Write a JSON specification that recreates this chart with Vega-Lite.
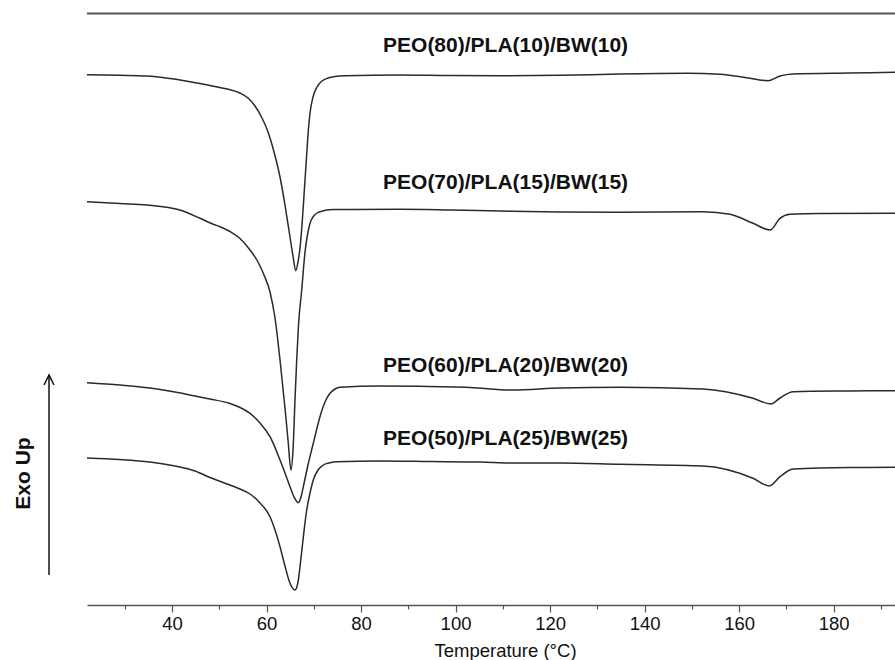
{
  "$schema": "https://vega.github.io/schema/vega-lite/v6.json",
  "width": 808,
  "height": 591.5,
  "autosize": {"type": "none"},
  "padding": {"left": 87, "top": 13.5, "right": 0, "bottom": 55},
  "background": "white",
  "config": {"view": {"stroke": null}, "font": "Liberation Sans"},
  "datasets": {
    "dsc": [
      {"sample": "PEO80", "temp": 22.00, "flow": 5.303},
      {"sample": "PEO80", "temp": 28.98, "flow": 5.297},
      {"sample": "PEO80", "temp": 34.70, "flow": 5.290},
      {"sample": "PEO80", "temp": 39.57, "flow": 5.265},
      {"sample": "PEO80", "temp": 43.80, "flow": 5.233},
      {"sample": "PEO80", "temp": 48.03, "flow": 5.195},
      {"sample": "PEO80", "temp": 51.63, "flow": 5.160},
      {"sample": "PEO80", "temp": 54.38, "flow": 5.120},
      {"sample": "PEO80", "temp": 56.08, "flow": 5.070},
      {"sample": "PEO80", "temp": 57.56, "flow": 4.990},
      {"sample": "PEO80", "temp": 59.04, "flow": 4.870},
      {"sample": "PEO80", "temp": 60.31, "flow": 4.730},
      {"sample": "PEO80", "temp": 61.58, "flow": 4.530},
      {"sample": "PEO80", "temp": 62.85, "flow": 4.280},
      {"sample": "PEO80", "temp": 63.90, "flow": 4.000},
      {"sample": "PEO80", "temp": 64.96, "flow": 3.680},
      {"sample": "PEO80", "temp": 65.60, "flow": 3.490},
      {"sample": "PEO80", "temp": 66.17, "flow": 3.343},
      {"sample": "PEO80", "temp": 66.66, "flow": 3.430},
      {"sample": "PEO80", "temp": 67.08, "flow": 3.570},
      {"sample": "PEO80", "temp": 67.50, "flow": 3.800},
      {"sample": "PEO80", "temp": 67.93, "flow": 4.100},
      {"sample": "PEO80", "temp": 68.35, "flow": 4.400},
      {"sample": "PEO80", "temp": 68.77, "flow": 4.700},
      {"sample": "PEO80", "temp": 69.20, "flow": 4.920},
      {"sample": "PEO80", "temp": 69.83, "flow": 5.080},
      {"sample": "PEO80", "temp": 70.68, "flow": 5.180},
      {"sample": "PEO80", "temp": 71.74, "flow": 5.240},
      {"sample": "PEO80", "temp": 73.01, "flow": 5.270},
      {"sample": "PEO80", "temp": 74.49, "flow": 5.285},
      {"sample": "PEO80", "temp": 76.60, "flow": 5.292},
      {"sample": "PEO80", "temp": 88.24, "flow": 5.300},
      {"sample": "PEO80", "temp": 98.83, "flow": 5.295},
      {"sample": "PEO80", "temp": 109.41, "flow": 5.293},
      {"sample": "PEO80", "temp": 122.11, "flow": 5.297},
      {"sample": "PEO80", "temp": 134.80, "flow": 5.310},
      {"sample": "PEO80", "temp": 148.92, "flow": 5.317},
      {"sample": "PEO80", "temp": 155.97, "flow": 5.307},
      {"sample": "PEO80", "temp": 161.62, "flow": 5.273},
      {"sample": "PEO80", "temp": 166.19, "flow": 5.243},
      {"sample": "PEO80", "temp": 168.67, "flow": 5.290},
      {"sample": "PEO80", "temp": 171.42, "flow": 5.310},
      {"sample": "PEO80", "temp": 183.48, "flow": 5.320},
      {"sample": "PEO80", "temp": 193.00, "flow": 5.327},

      {"sample": "PEO70", "temp": 22.00, "flow": 4.033},
      {"sample": "PEO70", "temp": 28.98, "flow": 4.015},
      {"sample": "PEO70", "temp": 34.70, "flow": 4.000},
      {"sample": "PEO70", "temp": 41.68, "flow": 3.950},
      {"sample": "PEO70", "temp": 45.92, "flow": 3.867},
      {"sample": "PEO70", "temp": 48.73, "flow": 3.807},
      {"sample": "PEO70", "temp": 50.15, "flow": 3.783},
      {"sample": "PEO70", "temp": 52.26, "flow": 3.735},
      {"sample": "PEO70", "temp": 54.38, "flow": 3.665},
      {"sample": "PEO70", "temp": 56.50, "flow": 3.550},
      {"sample": "PEO70", "temp": 58.19, "flow": 3.430},
      {"sample": "PEO70", "temp": 59.46, "flow": 3.300},
      {"sample": "PEO70", "temp": 60.73, "flow": 3.130},
      {"sample": "PEO70", "temp": 61.79, "flow": 2.870},
      {"sample": "PEO70", "temp": 62.85, "flow": 2.450},
      {"sample": "PEO70", "temp": 63.90, "flow": 1.970},
      {"sample": "PEO70", "temp": 64.54, "flow": 1.650},
      {"sample": "PEO70", "temp": 65.17, "flow": 1.350},
      {"sample": "PEO70", "temp": 65.60, "flow": 1.550},
      {"sample": "PEO70", "temp": 66.02, "flow": 2.050},
      {"sample": "PEO70", "temp": 66.38, "flow": 2.450},
      {"sample": "PEO70", "temp": 66.76, "flow": 2.800},
      {"sample": "PEO70", "temp": 67.44, "flow": 3.150},
      {"sample": "PEO70", "temp": 68.14, "flow": 3.530},
      {"sample": "PEO70", "temp": 68.77, "flow": 3.730},
      {"sample": "PEO70", "temp": 69.20, "flow": 3.817},
      {"sample": "PEO70", "temp": 69.83, "flow": 3.880},
      {"sample": "PEO70", "temp": 70.68, "flow": 3.920},
      {"sample": "PEO70", "temp": 71.31, "flow": 3.933},
      {"sample": "PEO70", "temp": 74.06, "flow": 3.955},
      {"sample": "PEO70", "temp": 88.24, "flow": 3.957},
      {"sample": "PEO70", "temp": 98.83, "flow": 3.950},
      {"sample": "PEO70", "temp": 109.41, "flow": 3.940},
      {"sample": "PEO70", "temp": 122.11, "flow": 3.930},
      {"sample": "PEO70", "temp": 134.80, "flow": 3.927},
      {"sample": "PEO70", "temp": 152.37, "flow": 3.933},
      {"sample": "PEO70", "temp": 158.08, "flow": 3.907},
      {"sample": "PEO70", "temp": 162.95, "flow": 3.817},
      {"sample": "PEO70", "temp": 166.55, "flow": 3.750},
      {"sample": "PEO70", "temp": 168.67, "flow": 3.867},
      {"sample": "PEO70", "temp": 170.79, "flow": 3.907},
      {"sample": "PEO70", "temp": 177.13, "flow": 3.915},
      {"sample": "PEO70", "temp": 193.00, "flow": 3.917},

      {"sample": "PEO60", "temp": 22.00, "flow": 2.223},
      {"sample": "PEO60", "temp": 28.98, "flow": 2.200},
      {"sample": "PEO60", "temp": 35.33, "flow": 2.170},
      {"sample": "PEO60", "temp": 40.62, "flow": 2.130},
      {"sample": "PEO60", "temp": 44.86, "flow": 2.090},
      {"sample": "PEO60", "temp": 48.03, "flow": 2.060},
      {"sample": "PEO60", "temp": 52.26, "flow": 2.015},
      {"sample": "PEO60", "temp": 54.38, "flow": 1.975},
      {"sample": "PEO60", "temp": 56.50, "flow": 1.917},
      {"sample": "PEO60", "temp": 58.61, "flow": 1.820},
      {"sample": "PEO60", "temp": 60.73, "flow": 1.683},
      {"sample": "PEO60", "temp": 62.85, "flow": 1.450},
      {"sample": "PEO60", "temp": 63.90, "flow": 1.320},
      {"sample": "PEO60", "temp": 64.96, "flow": 1.183},
      {"sample": "PEO60", "temp": 65.81, "flow": 1.080},
      {"sample": "PEO60", "temp": 66.72, "flow": 1.023},
      {"sample": "PEO60", "temp": 67.29, "flow": 1.080},
      {"sample": "PEO60", "temp": 67.78, "flow": 1.183},
      {"sample": "PEO60", "temp": 68.77, "flow": 1.400},
      {"sample": "PEO60", "temp": 69.89, "flow": 1.617},
      {"sample": "PEO60", "temp": 70.68, "flow": 1.770},
      {"sample": "PEO60", "temp": 71.31, "flow": 1.883},
      {"sample": "PEO60", "temp": 72.37, "flow": 2.030},
      {"sample": "PEO60", "temp": 73.43, "flow": 2.117},
      {"sample": "PEO60", "temp": 74.49, "flow": 2.160},
      {"sample": "PEO60", "temp": 75.54, "flow": 2.177},
      {"sample": "PEO60", "temp": 84.01, "flow": 2.190},
      {"sample": "PEO60", "temp": 92.48, "flow": 2.187},
      {"sample": "PEO60", "temp": 103.06, "flow": 2.175},
      {"sample": "PEO60", "temp": 112.16, "flow": 2.150},
      {"sample": "PEO60", "temp": 122.11, "flow": 2.170},
      {"sample": "PEO60", "temp": 134.80, "flow": 2.177},
      {"sample": "PEO60", "temp": 152.37, "flow": 2.160},
      {"sample": "PEO60", "temp": 162.95, "flow": 2.067},
      {"sample": "PEO60", "temp": 166.70, "flow": 2.010},
      {"sample": "PEO60", "temp": 168.67, "flow": 2.070},
      {"sample": "PEO60", "temp": 171.42, "flow": 2.133},
      {"sample": "PEO60", "temp": 183.48, "flow": 2.140},
      {"sample": "PEO60", "temp": 193.00, "flow": 2.143},

      {"sample": "PEO50", "temp": 22.00, "flow": 1.470},
      {"sample": "PEO50", "temp": 28.98, "flow": 1.455},
      {"sample": "PEO50", "temp": 35.33, "flow": 1.430},
      {"sample": "PEO50", "temp": 40.62, "flow": 1.390},
      {"sample": "PEO50", "temp": 44.86, "flow": 1.340},
      {"sample": "PEO50", "temp": 48.03, "flow": 1.275},
      {"sample": "PEO50", "temp": 52.26, "flow": 1.200},
      {"sample": "PEO50", "temp": 54.38, "flow": 1.160},
      {"sample": "PEO50", "temp": 56.50, "flow": 1.110},
      {"sample": "PEO50", "temp": 58.61, "flow": 1.020},
      {"sample": "PEO50", "temp": 60.73, "flow": 0.883},
      {"sample": "PEO50", "temp": 61.79, "flow": 0.750},
      {"sample": "PEO50", "temp": 62.85, "flow": 0.583},
      {"sample": "PEO50", "temp": 63.90, "flow": 0.390},
      {"sample": "PEO50", "temp": 64.96, "flow": 0.217},
      {"sample": "PEO50", "temp": 66.02, "flow": 0.150},
      {"sample": "PEO50", "temp": 66.66, "flow": 0.230},
      {"sample": "PEO50", "temp": 67.08, "flow": 0.383},
      {"sample": "PEO50", "temp": 67.71, "flow": 0.650},
      {"sample": "PEO50", "temp": 68.50, "flow": 0.950},
      {"sample": "PEO50", "temp": 69.20, "flow": 1.120},
      {"sample": "PEO50", "temp": 69.89, "flow": 1.250},
      {"sample": "PEO50", "temp": 70.89, "flow": 1.350},
      {"sample": "PEO50", "temp": 72.01, "flow": 1.400},
      {"sample": "PEO50", "temp": 73.43, "flow": 1.423},
      {"sample": "PEO50", "temp": 74.85, "flow": 1.433},
      {"sample": "PEO50", "temp": 84.01, "flow": 1.440},
      {"sample": "PEO50", "temp": 94.59, "flow": 1.435},
      {"sample": "PEO50", "temp": 105.17, "flow": 1.430},
      {"sample": "PEO50", "temp": 112.16, "flow": 1.420},
      {"sample": "PEO50", "temp": 122.11, "flow": 1.420},
      {"sample": "PEO50", "temp": 134.80, "flow": 1.407},
      {"sample": "PEO50", "temp": 152.37, "flow": 1.390},
      {"sample": "PEO50", "temp": 162.95, "flow": 1.267},
      {"sample": "PEO50", "temp": 166.40, "flow": 1.190},
      {"sample": "PEO50", "temp": 168.67, "flow": 1.283},
      {"sample": "PEO50", "temp": 171.42, "flow": 1.360},
      {"sample": "PEO50", "temp": 183.48, "flow": 1.375},
      {"sample": "PEO50", "temp": 193.00, "flow": 1.377}
    ]
  },
  "layer": [
    {
      "data": {"name": "dsc"},
      "mark": {"type": "line", "interpolate": "monotone", "color": "#2a2a2a", "strokeWidth": 1.5},
      "encoding": {
        "x": {
          "field": "temp", "type": "quantitative",
          "scale": {"domain": [22, 193], "nice": false, "zero": false},
          "axis": {
            "values": [30, 40, 50, 60, 70, 80, 90, 100, 110, 120, 130, 140, 150, 160, 170, 180, 190],
            "labelExpr": "datum.value % 20 === 0 ? datum.label : ''",
            "tickSize": {"condition": {"test": "datum.value % 20 !== 0", "value": 4}, "value": 7},
            "domainColor": "#555", "domainWidth": 1.5,
            "tickColor": "#555", "tickWidth": 1.2,
            "labelFontSize": 18.5, "labelColor": "#111", "labelPadding": 2,
            "labelFlush": false, "labelOverlap": false,
            "grid": false,
            "title": "Temperature (°C)", "titleFontSize": 18.5, "titleFontWeight": "normal", "titleColor": "#111",
            "titleX": 418, "titleY": 45, "titleAlign": "center", "titleBaseline": "middle"
          }
        },
        "y": {
          "field": "flow", "type": "quantitative",
          "scale": {"domain": [0, 5.915], "nice": false, "zero": false},
          "axis": {
            "domain": false, "ticks": false, "labels": false, "grid": false,
            "title": "Exo Up", "titleFontSize": 21, "titleFontWeight": "bold", "titleColor": "#111",
            "titleX": -64, "titleY": 459.5, "titleAlign": "center", "titleBaseline": "middle", "titleAngle": -90
          }
        },
        "detail": {"field": "sample", "type": "nominal"}
      }
    },
    {
      "data": {"values": [{}]},
      "mark": {"type": "rule", "color": "#555", "strokeWidth": 1.8},
      "encoding": {"y": {"datum": 5.915, "type": "quantitative"}}
    },
    {
      "data": {"values": [{}]},
      "mark": {"type": "rule", "color": "#111", "strokeWidth": 1.5},
      "encoding": {
        "x": {"datum": 13.96, "type": "quantitative"},
        "y": {"datum": 2.30, "type": "quantitative"},
        "y2": {"datum": 0.30}
      }
    },
    {
      "data": {"values": [{}]},
      "mark": {"type": "point", "shape": "M-1,2L0,0L1,2", "size": 100, "filled": false, "stroke": "#111", "strokeWidth": 1.5, "opacity": 1},
      "encoding": {
        "x": {"datum": 13.96, "type": "quantitative"},
        "y": {"datum": 2.30, "type": "quantitative"}
      }
    },
    {
      "data": {"values": [{}]},
      "mark": {"type": "text", "align": "left", "baseline": "middle", "fontSize": 21, "fontWeight": "bold", "color": "#111"},
      "encoding": {
        "x": {"datum": 84.65, "type": "quantitative"},
        "y": {"datum": 5.593, "type": "quantitative"},
        "text": {"value": "PEO(80)/PLA(10)/BW(10)"}
      }
    },
    {
      "data": {"values": [{}]},
      "mark": {"type": "text", "align": "left", "baseline": "middle", "fontSize": 21, "fontWeight": "bold", "color": "#111"},
      "encoding": {
        "x": {"datum": 84.65, "type": "quantitative"},
        "y": {"datum": 4.217, "type": "quantitative"},
        "text": {"value": "PEO(70)/PLA(15)/BW(15)"}
      }
    },
    {
      "data": {"values": [{}]},
      "mark": {"type": "text", "align": "left", "baseline": "middle", "fontSize": 21, "fontWeight": "bold", "color": "#111"},
      "encoding": {
        "x": {"datum": 84.65, "type": "quantitative"},
        "y": {"datum": 2.39, "type": "quantitative"},
        "text": {"value": "PEO(60)/PLA(20)/BW(20)"}
      }
    },
    {
      "data": {"values": [{}]},
      "mark": {"type": "text", "align": "left", "baseline": "middle", "fontSize": 21, "fontWeight": "bold", "color": "#111"},
      "encoding": {
        "x": {"datum": 84.65, "type": "quantitative"},
        "y": {"datum": 1.66, "type": "quantitative"},
        "text": {"value": "PEO(50)/PLA(25)/BW(25)"}
      }
    }
  ]
}
